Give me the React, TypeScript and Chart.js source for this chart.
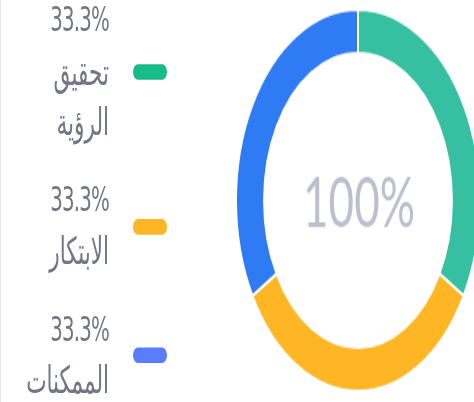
import React, { useEffect, useRef } from "react";
import { Chart, registerables } from "chart.js";

Chart.register(...registerables);

const categories = ["تحقيق الرؤية", "الابتكار", "الممكنات"];
const values = [1, 1, 1];
const arcColors = ["#37BFA1", "#FFB624", "#2F7BF4"];
const markerColors = ["#18BB86", "#FFB624", "#5A7CFF"];
const centerLabel = "100%";

const SY = 1.565;

export default function App() {
  const ref = useRef<HTMLCanvasElement | null>(null);
  const total = values.reduce((a, b) => a + b, 0);
  const pcts = values.map((v) => ((v / total) * 100).toFixed(1) + "%");

  useEffect(() => {
    if (!ref.current) return;
    const centerText = {
      id: "centerText",
      afterDraw(chart: any) {
        const meta = chart.getDatasetMeta(0);
        const arc = meta.data[0];
        if (!arc) return;
        const ctx = chart.ctx;
        ctx.save();
        ctx.fillStyle = "#BCBFCE";
        ctx.font = "400 44px Lato, 'Open Sans', sans-serif";
        ctx.textAlign = "center";
        ctx.textBaseline = "middle";
        ctx.fillText(centerLabel, arc.x + 1, arc.y + 3);
        ctx.restore();
      },
    };
    const chart = new Chart(ref.current, {
      type: "doughnut",
      data: {
        labels: categories,
        datasets: [
          {
            data: values,
            backgroundColor: arcColors,
            borderColor: "#ffffff",
            borderWidth: 2,
            hoverBorderWidth: 2,
          },
        ],
      },
      options: {
        responsive: false,
        animation: false,
        events: [],
        cutout: "77%",
        plugins: { legend: { display: false }, tooltip: { enabled: false } },
      },
      plugins: [centerText],
    });
    return () => chart.destroy();
  }, []);

  return (
    <div
      style={{
        position: "fixed",
        left: 0,
        top: 0,
        width: 474,
        height: 402,
        overflow: "hidden",
        background: "#fff",
      }}
    >
      <div style={{ position: "absolute", left: 0, top: 0, width: 1, height: 402, background: "#E6E6F4" }} />
      <div
        style={{
          position: "absolute",
          left: 0,
          top: 0,
          width: 474,
          height: 258,
          transform: `scaleY(${SY})`,
          transformOrigin: "0 0",
        }}
      >
        <canvas
          ref={ref}
          width={246}
          height={246}
          style={{ position: "absolute", left: 235, top: 4.6 }}
        />
        <div
          style={{
            position: "absolute",
            left: 0,
            top: -3,
            width: 170,
            display: "flex",
            flexDirection: "column",
            gap: 17.5,
          }}
        >
          {categories.map((c, i) => (
            <div key={c} style={{ display: "flex", alignItems: "center" }}>
              <div
                style={{
                  width: 109,
                  textAlign: "right",
                  color: "#747687",
                  fontFamily: "'Liberation Sans Narrow', 'DejaVu Sans Condensed', 'DejaVu Sans', sans-serif",
                  fontSize: 22,
                }}
              >
                <div style={{ height: 32.5, lineHeight: "32.5px", whiteSpace: "nowrap", letterSpacing: -0.8 }}>
                  {pcts[i]}
                </div>
                {c.split(" ").map((w) => (
                  <div
                    key={w}
                    dir="rtl"
                    style={{
                      height: 32.5,
                      lineHeight: "32.5px",
                      whiteSpace: "nowrap",
                      textAlign: "right",
                      fontSize: 24,
                    }}
                  >
                    {w}
                  </div>
                ))}
              </div>
              <div
                style={{
                  marginLeft: 24,
                  width: 34,
                  height: 10,
                  borderRadius: 5,
                  background: markerColors[i],
                }}
              />
            </div>
          ))}
        </div>
      </div>
    </div>
  );
}
